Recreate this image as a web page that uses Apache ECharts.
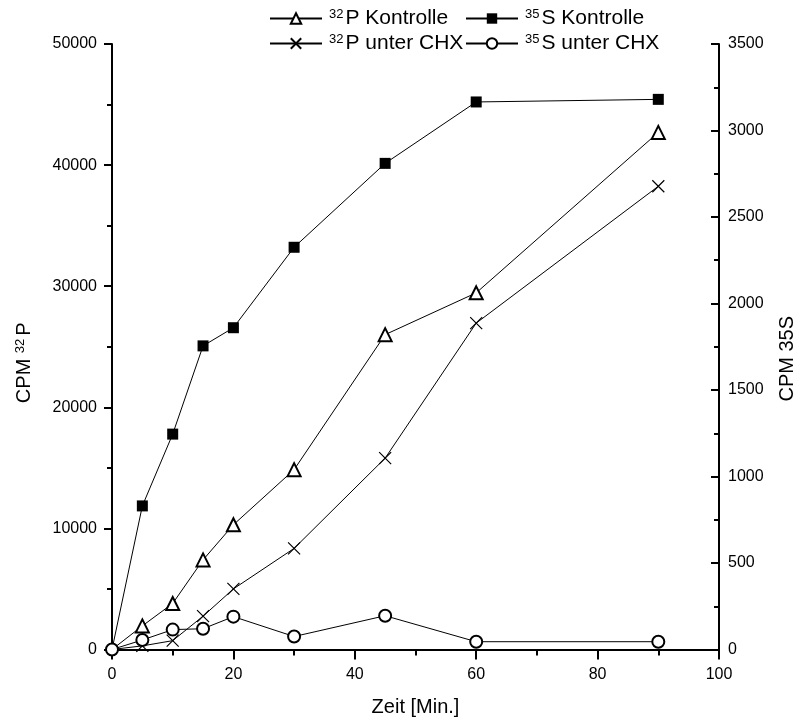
<!DOCTYPE html>
<html>
<head>
<meta charset="utf-8">
<script src="https://cdn.jsdelivr.net/npm/echarts@6/dist/echarts.min.js"></script>
<style>
html,body{margin:0;padding:0;background:#fff;overflow:hidden;}
#chart{width:796px;height:720px;}
</style>
</head>
<body>
<div id="chart"></div>
<script>
// Data
const times = [0, 5, 10, 15, 20, 30, 45, 60, 90];
const p32Kontrolle = [0, 1950, 3800, 7400, 10300, 14850, 26000, 29450, 42700];
const s35Kontrolle = [0, 830, 1245, 1755, 1860, 2325, 2810, 3165, 3180];
const p32CHX = [0, 300, 730, 2750, 5000, 8350, 15800, 26950, 38250];
const s35CHX = [0, 55, 115, 120, 190, 75, 195, 45, 45];

const legendLabels = {
  p32K: '{sup|32}P Kontrolle',
  s35K: '{sup|35}S Kontrolle',
  p32C: '{sup|32}P unter CHX',
  s35C: '{sup|35}S unter CHX'
};

const FONT = 'Liberation Sans, Arial, sans-serif';
const xPath = 'path://M0,0L10,10M10,0L0,10';

function pts(vals, hideFirst) {
  return times.map((t, i) => {
    const d = { value: [t, vals[i]] };
    if (i === 0 && hideFirst) d.symbol = 'none';
    return d;
  });
}

const chart = echarts.init(document.getElementById('chart'), null, { renderer: 'canvas' });

const richSup = {
  sup: { fontSize: 13, verticalAlign: 'top', fontFamily: FONT, color: '#000', padding: [0, 2, 0, 0] }
};

function legendAt(name, left, top) {
  return {
    data: [name],
    left: left, top: top,
    orient: 'horizontal',
    itemWidth: 52, itemHeight: 13, itemGap: 6,
    padding: 0,
    formatter: n => legendLabels[n],
    textStyle: { fontSize: 21, fontFamily: FONT, color: '#000', rich: richSup, padding: [0, 0, 0, 2] }
  };
}

const plain = v => String(v);

const option = {
  backgroundColor: '#fff',
  animation: false,
  legend: [
    legendAt('p32K', 269, 8),
    legendAt('s35K', 465, 8),
    legendAt('p32C', 269, 33),
    legendAt('s35C', 465, 33)
  ],
  grid: { left: 112, right: 77, top: 44, bottom: 70.5, containLabel: false, outerBoundsMode: 'none' },
  xAxis: {
    type: 'value', min: 0, max: 100, interval: 20,
    name: 'Zeit [Min.]', nameLocation: 'middle', nameGap: 48,
    nameTextStyle: { fontSize: 20, fontFamily: FONT, color: '#000' },
    axisLine: { show: true, onZero: false, lineStyle: { color: '#000', width: 2 } },
    axisTick: { show: true, length: 10, lineStyle: { color: '#000', width: 2 } },
    minorTick: { show: true, splitNumber: 2, length: 6, lineStyle: { color: '#000', width: 2 } },
    axisLabel: { fontSize: 16, fontFamily: FONT, color: '#000', margin: 17, formatter: plain },
    splitLine: { show: false }
  },
  yAxis: [
    {
      type: 'value', min: 0, max: 50000, interval: 10000, position: 'left',
      name: 'CPM {sup|32}P', nameLocation: 'middle', nameRotate: 90, nameGap: 78,
      nameTextStyle: { fontSize: 20, fontFamily: FONT, color: '#000', padding: [0, 32, 0, 0],
        rich: { sup: { fontSize: 13, verticalAlign: 'top', fontFamily: FONT, color: '#000', padding: [0, 3, 0, 0] } } },
      axisLine: { show: true, onZero: false, lineStyle: { color: '#000', width: 2 } },
      axisTick: { show: true, length: 8, lineStyle: { color: '#000', width: 2 } },
      minorTick: { show: true, splitNumber: 2, length: 5, lineStyle: { color: '#000', width: 2 } },
      axisLabel: { fontSize: 16, fontFamily: FONT, color: '#000', margin: 15, formatter: plain },
      splitLine: { show: false }
    },
    {
      type: 'value', min: 0, max: 3500, interval: 500, position: 'right',
      name: 'CPM 35S', nameLocation: 'middle', nameRotate: 90, nameGap: 58,
      nameTextStyle: { fontSize: 20, fontFamily: FONT, color: '#000', padding: [0, 24, 0, 0] },
      axisLine: { show: true, onZero: false, lineStyle: { color: '#000', width: 2 } },
      axisTick: { show: true, inside: true, length: 8, lineStyle: { color: '#000', width: 2 } },
      minorTick: { show: true, splitNumber: 2, length: 5, lineStyle: { color: '#000', width: 2 } },
      axisLabel: { fontSize: 16, fontFamily: FONT, color: '#000', margin: 9, formatter: plain },
      splitLine: { show: false }
    }
  ],
  series: [
    {
      name: 'p32K', type: 'line', yAxisIndex: 0, data: pts(p32Kontrolle, true),
      symbol: 'emptyTriangle', symbolSize: 13, showAllSymbol: true,
      lineStyle: { color: '#000', width: 1 },
      itemStyle: { color: '#000', borderWidth: 1.3 }, z: 3
    },
    {
      name: 's35K', type: 'line', yAxisIndex: 1, data: pts(s35Kontrolle, true),
      symbol: 'rect', symbolSize: 11, showAllSymbol: true,
      lineStyle: { color: '#000', width: 1 },
      itemStyle: { color: '#000' }, z: 3
    },
    {
      name: 'p32C', type: 'line', yAxisIndex: 0, data: pts(p32CHX, true),
      symbol: xPath, symbolSize: 12, showAllSymbol: true,
      lineStyle: { color: '#000', width: 1 },
      itemStyle: { color: 'none', borderColor: '#000', borderWidth: 1.2 }, z: 3
    },
    {
      name: 's35C', type: 'line', yAxisIndex: 1, data: pts(s35CHX, false),
      symbol: 'emptyCircle', symbolSize: 12, showAllSymbol: true,
      lineStyle: { color: '#000', width: 1 },
      itemStyle: { color: '#000', borderWidth: 1.2 }, z: 3
    }
  ]
};

chart.setOption(option);
</script>
</body>
</html>
